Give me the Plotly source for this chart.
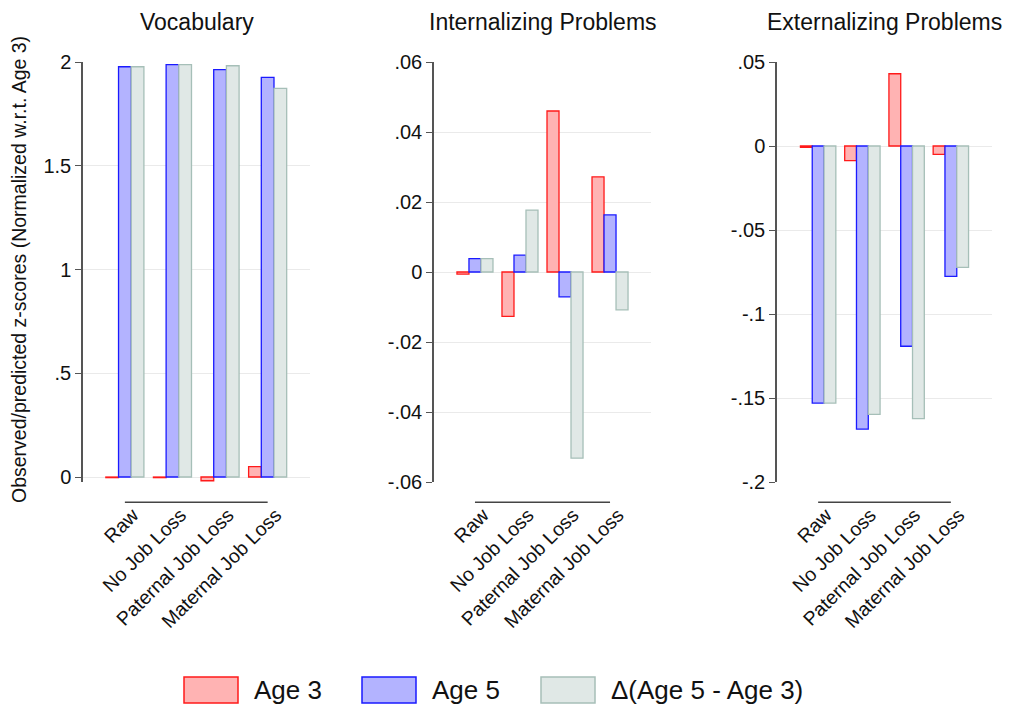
import plotly.graph_objects as go

# ---------------- data ----------------
categories = ["Raw", "No Job Loss", "Paternal Job Loss", "Maternal Job Loss"]
series_names = ["Age 3", "Age 5", "\u0394(Age 5 - Age 3)"]
panel_titles = ["Vocabulary", "Internalizing Problems", "Externalizing Problems"]

vocab_age3 = [-0.003, -0.003, -0.018, 0.05]
vocab_age5 = [1.977, 1.987, 1.963, 1.926]
vocab_delta = [1.977, 1.987, 1.982, 1.873]

intern_age3 = [-0.0006, -0.0127, 0.046, 0.0272]
intern_age5 = [0.0038, 0.0048, -0.0071, 0.0163]
intern_delta = [0.0038, 0.0177, -0.0532, -0.0108]

extern_age3 = [-0.0008, -0.0087, 0.043, -0.005]
extern_age5 = [-0.153, -0.1685, -0.1192, -0.0776]
extern_delta = [-0.153, -0.1597, -0.1623, -0.0722]

vocab_ticks = [0, 0.5, 1, 1.5, 2]
vocab_ticktext = ["0", ".5", "1", "1.5", "2"]
intern_ticks = [-0.06, -0.04, -0.02, 0, 0.02, 0.04, 0.06]
intern_ticktext = ["-.06", "-.04", "-.02", "0", ".02", ".04", ".06"]
extern_ticks = [-0.2, -0.15, -0.1, -0.05, 0, 0.05]
extern_ticktext = ["-.2", "-.15", "-.1", "-.05", "0", ".05"]

y_title = "Observed/predicted z-scores (Normalized w.r.t. Age 3)"

# ---------------- style ----------------
FONT = "Liberation Sans, Arial, Helvetica, sans-serif"
fills = ["#FFB3B3", "#B3B3FF", "#E0E8E6"]
lines = ["#FF1A1A", "#1A1AFF", "#A6BFB8"]

W, H = 1013, 707
def px(x):
    return x / W
def py(y):
    return 1 - y / H

panels = [
    dict(vals=[vocab_age3, vocab_age5, vocab_delta], ticks=vocab_ticks, ticktext=vocab_ticktext,
         yrange=[-0.024, 2.0], xdom=[px(83), px(310)], xrange=[-0.88, 3.89]),
    dict(vals=[intern_age3, intern_age5, intern_delta], ticks=intern_ticks, ticktext=intern_ticktext,
         yrange=[-0.06, 0.06], xdom=[px(434), px(651)], xrange=[-0.91, 3.91]),
    dict(vals=[extern_age3, extern_age5, extern_delta], ticks=extern_ticks, ticktext=extern_ticktext,
         yrange=[-0.2, 0.05], xdom=[px(777), px(992)], xrange=[-0.93, 3.93]),
]

fig = go.Figure()
ydom = [py(482), py(62)]
shapes = []
annotations = []

for i, p in enumerate(panels):
    sfx = "" if i == 0 else str(i + 1)
    xa, ya = "x" + sfx, "y" + sfx
    for s in range(3):
        fig.add_trace(go.Bar(
            x=categories, y=p["vals"][s], name=series_names[s],
            xaxis=xa, yaxis=ya, showlegend=False,
            offsetgroup=str(s),
            marker=dict(color=fills[s], line=dict(color=lines[s], width=1.3)),
        ))
    fig.layout["xaxis" + sfx] = dict(
        domain=p["xdom"], anchor=ya, type="category", range=p["xrange"],
        showgrid=False, zeroline=False, showline=False, ticks="",
        tickangle=-45, ticklabelstandoff=17, ticklabelshift=8, automargin=False,
        tickfont=dict(family=FONT, size=19.5, color="#111111"),
    )
    fig.layout["yaxis" + sfx] = dict(
        domain=ydom, anchor=xa, range=p["yrange"], automargin=False,
        tickvals=p["ticks"], ticktext=p["ticktext"],
        showgrid=True, gridcolor="#EAEAEA", gridwidth=1, zeroline=False,
        showline=True, linecolor="#555555", linewidth=1.5,
        ticks="outside", ticklen=6, tickcolor="#555555", tickwidth=1.3,
        tickfont=dict(family=FONT, size=20, color="#111111"),
    )
    # category axis baseline spanning first to last category
    shapes.append(dict(
        type="line", xref=xa, yref=ya + " domain",
        x0=categories[0], x1=categories[-1], y0=-0.048, y1=-0.048,
        line=dict(color="#444444", width=1.5),
    ))
    annotations.append(dict(
        text=panel_titles[i], xref="paper", yref="paper",
        x=(p["xdom"][0] + p["xdom"][1]) / 2, y=py(22),
        xanchor="center", yanchor="middle", showarrow=False,
        font=dict(family=FONT, size=23, color="#111111"),
    ))

annotations.append(dict(
    text=y_title, xref="paper", yref="paper", x=px(19), y=py(270),
    xanchor="center", yanchor="middle", textangle=-90, showarrow=False,
    font=dict(family=FONT, size=19.5, color="#111111"),
))

# legend drawn as boxes + text
legend_box_x = [184, 362, 541]
for s in range(3):
    x0 = legend_box_x[s]
    shapes.append(dict(
        type="rect", xref="paper", yref="paper",
        x0=px(x0), x1=px(x0 + 54), y0=py(703), y1=py(677),
        fillcolor=fills[s], line=dict(color=lines[s], width=1.5),
    ))
    annotations.append(dict(
        text=series_names[s], xref="paper", yref="paper",
        x=px(x0 + 68), y=py(690), xanchor="left", yanchor="middle",
        showarrow=False, font=dict(family=FONT, size=26, color="#111111"),
    ))

fig.update_layout(
    width=W, height=H, margin=dict(l=0, r=0, t=0, b=0, autoexpand=False),
    autosize=False,
    paper_bgcolor="white", plot_bgcolor="white",
    barmode="group", bargap=0.2, bargroupgap=0,
    shapes=shapes, annotations=annotations, showlegend=False,
)

fig.write_html(
    "out.html",
    config={"responsive": False, "displayModeBar": False},
    post_script="document.body.style.margin='0';document.body.style.overflow='hidden';",
)
